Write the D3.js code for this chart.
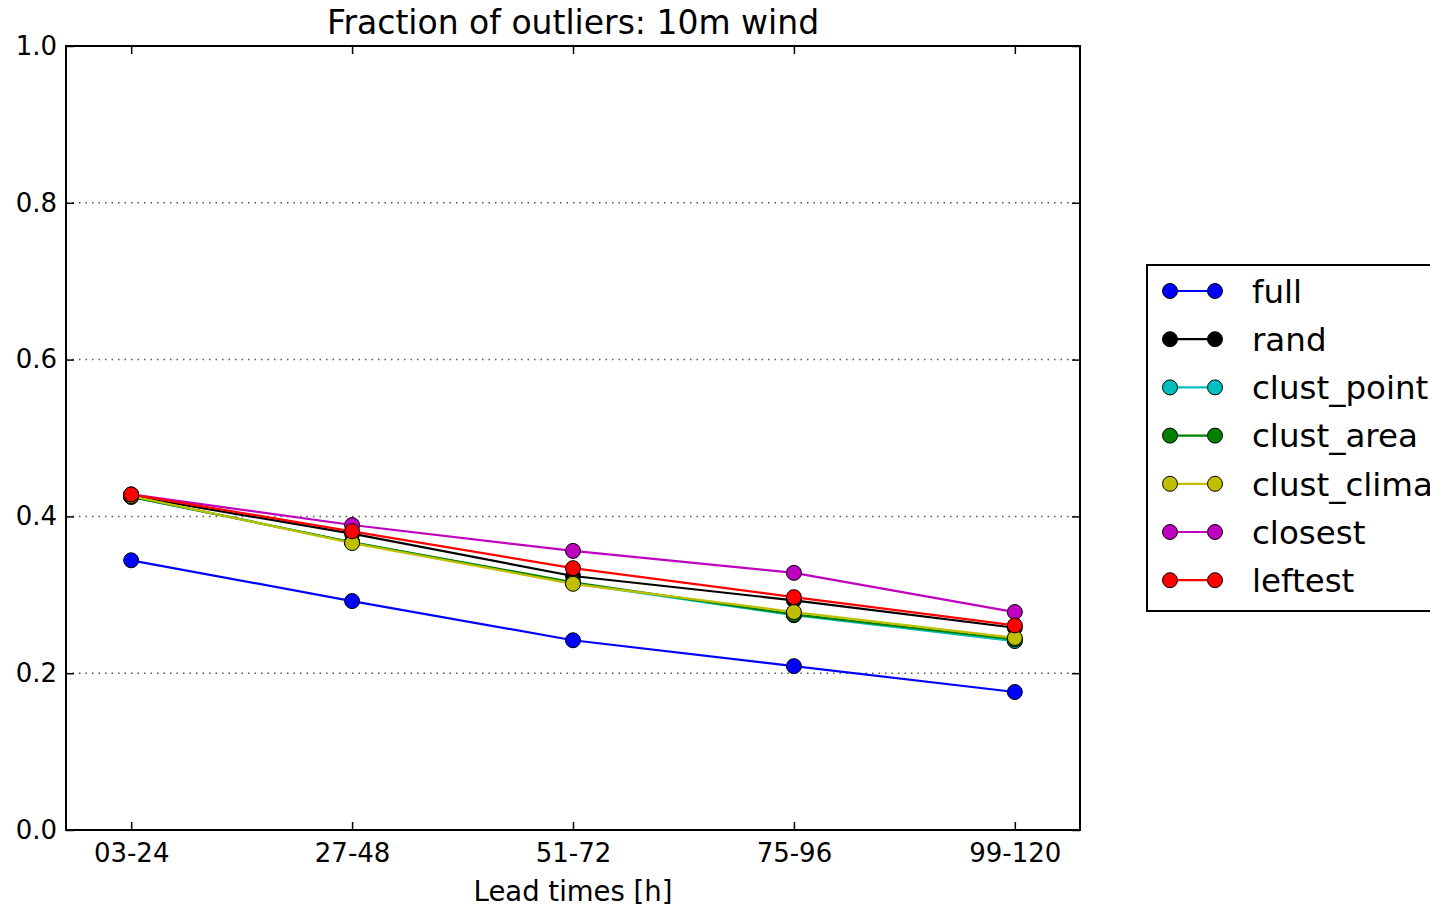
<!DOCTYPE html>
<html>
<head>
<meta charset="utf-8">
<script src="https://cdn.jsdelivr.net/npm/d3@7"></script>
<style>
  html, body { margin: 0; padding: 0; background: #fff; }
  svg { display: block; font-family: "DejaVu Sans", sans-serif; }
</style>
</head>
<body>
<svg id="chart" width="1430" height="909"></svg>
<script>
// Lead-time bins on the x axis
const categories = ["03-24", "27-48", "51-72", "75-96", "99-120"];
const yTicks = [0.0, 0.2, 0.4, 0.6, 0.8, 1.0];

// Fraction of outliers per method
const full        = [0.344, 0.292, 0.242, 0.209, 0.176];
const rand        = [0.426, 0.378, 0.324, 0.293, 0.258];
const clustPoint  = [0.425, 0.367, 0.315, 0.274, 0.241];
const clustArea   = [0.425, 0.367, 0.316, 0.275, 0.243];
const clustClima  = [0.426, 0.366, 0.314, 0.278, 0.245];
const closest     = [0.428, 0.389, 0.356, 0.328, 0.278];
const leftest     = [0.428, 0.381, 0.334, 0.297, 0.261];

const seriesNames  = ["full", "rand", "clust_point", "clust_area", "clust_clima", "closest", "leftest"];
const seriesValues = [full, rand, clustPoint, clustArea, clustClima, closest, leftest];
const seriesColors = ["#0000ff", "#000000", "#00bfbf", "#008000", "#bfbf00", "#bf00bf", "#ff0000"];

const svg = d3.select("#chart");
const plot = { left: 66, right: 1080, top: 46, bottom: 830 };

const x = d3.scaleLinear().domain([-0.295, categories.length - 1 + 0.295]).range([plot.left, plot.right]);
const y = d3.scaleLinear().domain([0, 1]).range([plot.bottom, plot.top]);

// Dotted horizontal grid
svg.append("g")
  .selectAll("line")
  .data(yTicks.filter(t => t > 0 && t < 1))
  .join("line")
  .attr("x1", plot.left).attr("x2", plot.right)
  .attr("y1", d => y(d)).attr("y2", d => y(d))
  .attr("stroke", "#555").attr("stroke-width", 1.5)
  .attr("stroke-dasharray", "1.5,5");

// Axes with inward ticks on all four sides
const tickLen = 8;
const xAxisBottom = d3.axisBottom(x).tickValues(d3.range(categories.length))
  .tickFormat(i => categories[i]).tickSizeInner(-tickLen).tickSizeOuter(0).tickPadding(14);
const xAxisTop = d3.axisTop(x).tickValues(d3.range(categories.length))
  .tickFormat("").tickSizeInner(-tickLen).tickSizeOuter(0);
const yAxisLeft = d3.axisLeft(y).tickValues(yTicks).tickFormat(d3.format(".1f"))
  .tickSizeInner(-tickLen).tickSizeOuter(0).tickPadding(9);
const yAxisRight = d3.axisRight(y).tickValues(yTicks).tickFormat("")
  .tickSizeInner(-tickLen).tickSizeOuter(0);

function styleAxis(g) {
  g.select(".domain").remove();
  g.selectAll(".tick line").attr("stroke", "#000").attr("stroke-width", 1.5);
  g.selectAll(".tick text").attr("fill", "#000").attr("font-size", 26)
    .attr("font-family", "DejaVu Sans, sans-serif");
}

svg.append("g").attr("transform", `translate(0,${plot.bottom})`).call(xAxisBottom).call(styleAxis);
svg.append("g").attr("transform", `translate(0,${plot.top})`).call(xAxisTop).call(styleAxis);
svg.append("g").attr("transform", `translate(${plot.left},0)`).call(yAxisLeft).call(styleAxis);
svg.append("g").attr("transform", `translate(${plot.right},0)`).call(yAxisRight).call(styleAxis);

// Lines and markers
const line = d3.line().x((d, i) => x(i)).y(d => y(d));
seriesValues.forEach((vals, s) => {
  const g = svg.append("g");
  g.append("path").datum(vals)
    .attr("d", line).attr("fill", "none")
    .attr("stroke", seriesColors[s]).attr("stroke-width", 2.2);
  g.selectAll("circle").data(vals).join("circle")
    .attr("cx", (d, i) => x(i)).attr("cy", d => y(d)).attr("r", 7.5)
    .attr("fill", seriesColors[s]).attr("stroke", "#000").attr("stroke-width", 1);
});

// Plot frame
svg.append("rect")
  .attr("x", plot.left).attr("y", plot.top)
  .attr("width", plot.right - plot.left).attr("height", plot.bottom - plot.top)
  .attr("fill", "none").attr("stroke", "#000").attr("stroke-width", 2);

// Title and axis label
svg.append("text").attr("x", (plot.left + plot.right) / 2).attr("y", 34)
  .attr("text-anchor", "middle").attr("font-size", 33).text("Fraction of outliers: 10m wind");
svg.append("text").attr("x", (plot.left + plot.right) / 2).attr("y", 901)
  .attr("text-anchor", "middle").attr("font-size", 27.5).text("Lead times [h]");

// Legend (box extends past the right edge of the figure)
const legend = svg.append("g");
legend.append("rect").attr("x", 1147).attr("y", 265).attr("width", 300).attr("height", 346)
  .attr("fill", "#fff").attr("stroke", "#000").attr("stroke-width", 2);
seriesNames.forEach((name, s) => {
  const ly = 291 + s * 48.2;
  legend.append("line").attr("x1", 1170).attr("x2", 1215).attr("y1", ly).attr("y2", ly)
    .attr("stroke", seriesColors[s]).attr("stroke-width", 2.2);
  [1170, 1215].forEach(cx => legend.append("circle").attr("cx", cx).attr("cy", ly).attr("r", 7.5)
    .attr("fill", seriesColors[s]).attr("stroke", "#000").attr("stroke-width", 1));
  legend.append("text").attr("x", 1252).attr("y", ly).attr("dy", "0.36em")
    .attr("font-size", 32.5).text(name);
});
</script>
</body>
</html>
